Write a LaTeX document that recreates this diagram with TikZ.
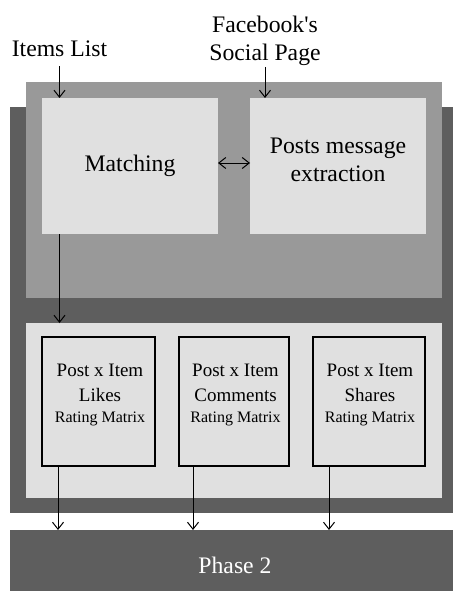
\documentclass[tikz,border=0pt]{standalone}
\usepackage{fontspec}
\setmainfont{Liberation Serif}
\usetikzlibrary{arrows.meta,calc}
\definecolor{dk}{HTML}{5E5E5E}
\definecolor{md}{HTML}{999999}
\definecolor{lt}{HTML}{E0E0E0}
\tikzset{
  area/.style={anchor=north west, inner sep=0pt, outer sep=0pt, draw=none},
  mbox/.style={area, fill=lt, draw=black, line width=1.2pt, minimum height=129pt},
  arr/.style={-{Straight Barb[length=7pt,width=11pt]}, line width=1pt, black},
  dbl/.style={{Straight Barb[length=7pt,width=11pt]}-{Straight Barb[length=7pt,width=11pt]}, line width=1pt, black},
  big/.style={font=\fontsize{23.7}{28}\selectfont, inner sep=0pt, align=center},
  mid/.style={font=\fontsize{19}{25}\selectfont, inner sep=0pt, align=center},
}
\begin{document}
\begin{tikzpicture}[x=1pt,y=-1pt]
\useasboundingbox (0,0) rectangle (453,591);
% panels
\node[area, fill=dk, minimum width=443pt, minimum height=406pt] (outer) at (10,107) {};
\node[area, fill=md, minimum width=416pt, minimum height=216pt] (upper) at (26,82) {};
\node[area, fill=lt, minimum width=416pt, minimum height=175pt] (lower) at (26,323) {};
\node[area, fill=lt, minimum width=176pt, minimum height=136pt] (match) at (42,98) {};
\node[area, fill=lt, minimum width=176pt, minimum height=136pt] (posts) at (250,98) {};
\node[mbox, minimum width=113pt] (b1) at (42,337) {};
\node[mbox, minimum width=110pt] (b2) at (179,337) {};
\node[mbox, minimum width=112pt] (b3) at (313,337) {};
\node[area, fill=dk, minimum width=443pt, minimum height=61pt] (phase) at (10,530) {};
% texts
\node[big, anchor=base] (il) at (59.5,57) {Items List};
\node[big, anchor=north] (fb) at (265,16) {Facebook\textquotesingle s\\Social Page};
\node[big, anchor=base] (mt) at (130,171) {Matching};
\node[big, anchor=north] (pt) at (338,138) {Posts message\\extraction};
\node[big, anchor=base, text=white] (ph) at (235,573) {Phase 2};
\node[mid, anchor=north] (t1) at ($(b1.north)+(1.5,27)$) {Post x Item\\Likes\\[-4pt]{\fontsize{16}{21}\selectfont Rating Matrix}};
\node[mid, anchor=north] (t2) at ($(b2.north)+(1.5,27)$) {Post x Item\\Comments\\[-4pt]{\fontsize{16}{21}\selectfont Rating Matrix}};
\node[mid, anchor=north] (t3) at ($(b3.north)+(1,27)$) {Post x Item\\Shares\\[-4pt]{\fontsize{16}{21}\selectfont Rating Matrix}};
% connectors
\draw[arr] ([yshift=-9pt]il.south) -- (il.south |- match.north);
\draw[arr] ([yshift=-1pt]fb.south) -- (fb.south |- posts.north);
\draw[arr] (il.south |- match.south) -- (il.south |- lower.north);
\draw[dbl] ([yshift=3pt]match.east) -- ([yshift=3pt]posts.west);
\coordinate (a1) at ($(b1.south west)+(16,0)$);
\coordinate (a2) at ($(b2.south west)+(14,0)$);
\coordinate (a3) at ($(b3.south west)+(16,0)$);
\draw[arr] (a1) -- (a1 |- phase.north);
\draw[arr] (a2) -- (a2 |- phase.north);
\draw[arr] (a3) -- (a3 |- phase.north);
\end{tikzpicture}
\end{document}
